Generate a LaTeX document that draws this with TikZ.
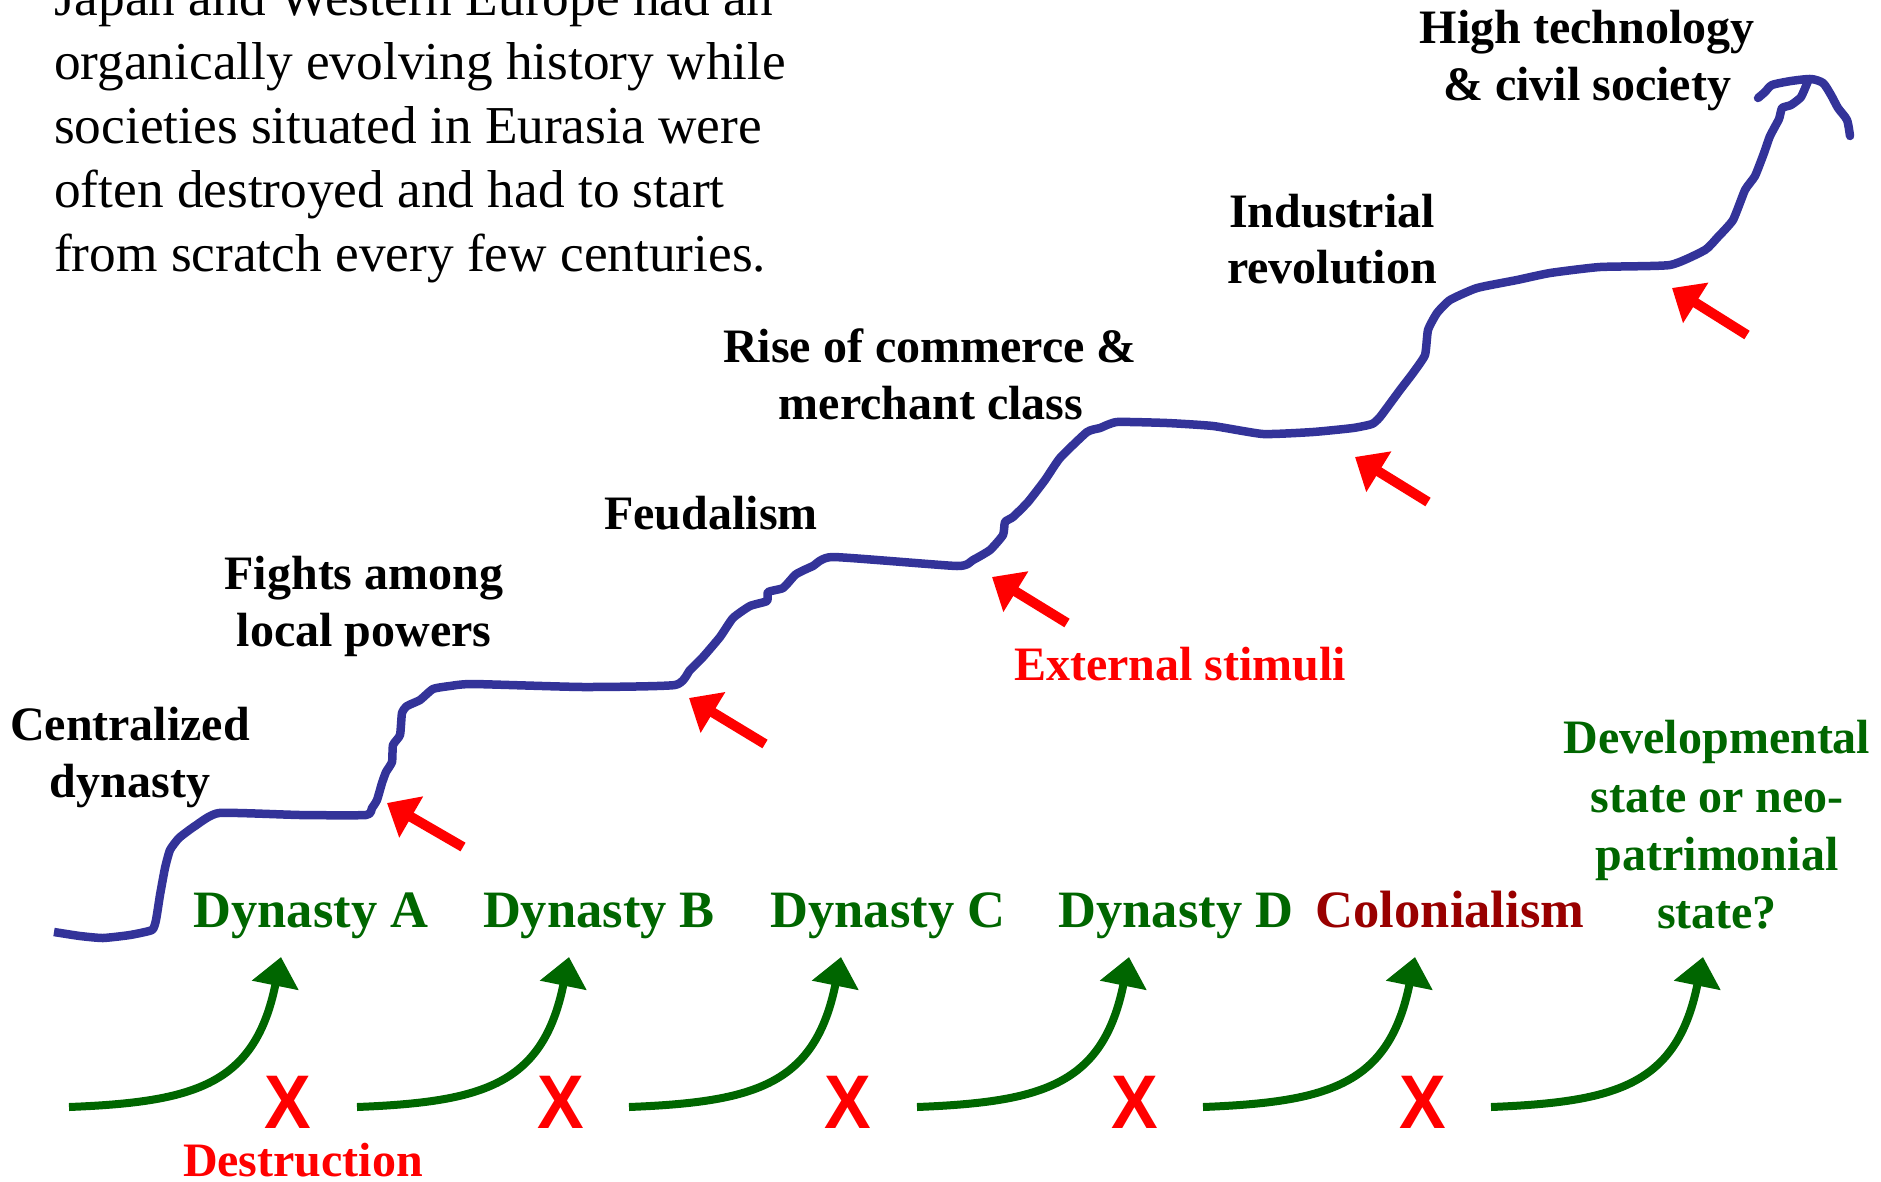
\documentclass[tikz,border=0pt]{standalone}
\usepackage{fontspec}
\setmainfont{Liberation Serif}
\newfontfamily\xfont{Liberation Sans}
\usetikzlibrary{arrows.meta}
\definecolor{curveblue}{RGB}{51,51,153}
\definecolor{dgreen}{RGB}{0,102,0}
\definecolor{dred}{RGB}{153,0,0}
\definecolor{bred}{RGB}{255,0,0}
\begin{document}
\begin{tikzpicture}[x=1pt,y=-1pt,
 para/.style={anchor=base west, inner sep=0, font=\fontsize{53.3}{64}\selectfont},
 lbl/.style={anchor=base, inner sep=0, font=\bfseries\fontsize{48}{57.6}\selectfont},
 dyn/.style={anchor=base, inner sep=0, text=dgreen, font=\bfseries\fontsize{52.5}{63}\selectfont},
 stim/.style={-{Triangle[length=28pt,width=46pt]}, line width=10pt, draw=bred},
 growarrow/.style={-{Triangle[length=29pt,width=46pt]}, line width=8pt, draw=dgreen},
 cross/.style={inner sep=0, text=bred, font=\xfont\bfseries\fontsize{76}{76}\selectfont},
 hist/.style={draw=curveblue, line width=8.5pt, line join=round},
]
\useasboundingbox (0,0) rectangle (1881,1181);

% paragraph
\node[para] (p1) at (54,15) {Japan and Western Europe had an};
\node[para] (p2) at (54,79) {organically evolving history while};
\node[para] (p3) at (54,143) {societies situated in Eurasia were};
\node[para] (p4) at (54,207) {often destroyed and had to start};
\node[para] (p5) at (54,271) {from scratch every few centuries.};

% history curve
\draw[hist] plot[smooth, tension=0.3] coordinates {
(54,932) (80,936) (103,938) (130,935) (152,930) (156,920) (160,895) (165,868)
(170,850) (179,838) (195,826) (219,813) (300,815) (366,815) (372,808) (377,800)
(382,783) (386,772) (392,762) (393,745) (400,735) (402,713) (407,706) (420,700)
(433,689) (450,686) (473,684) (583,687) (675,685) (690,670) (703,657) (720,637)
(733,618) (750,606) (767,601) (768,592) (783,588) (795,575) (802,571) (813,566)
(833,557) (957,566) (973,560) (990,550) (1003,535) (1005,522) (1013,517) (1028,502)
(1045,480) (1060,458) (1087,432) (1100,428) (1117,422) (1167,423) (1213,426) (1263,434)
(1313,432) (1353,428) (1372,424) (1380,417) (1400,390) (1413,373) (1425,355) (1428,330)
(1437,313) (1450,300) (1477,288) (1517,280) (1550,273) (1600,267) (1670,265) (1705,250)
(1717,238) (1733,220) (1745,190) (1755,176) (1764,153) (1770,136) (1779,119) (1782,108)
(1791,105) (1801,97) (1808,81)};
\draw[hist, line cap=round] plot[smooth, tension=0.4] coordinates {
(1758,98) (1765,92) (1772,85) (1791,81) (1811,79) (1823,83) (1831,95) (1838,108)
(1847,120) (1850,136)};

% labels on curve
\node[lbl] (c1) at (130,740) {Centralized};
\node[lbl] (c2) at (130,797) {dynasty};
\node[lbl] (f1) at (364,589) {Fights among};
\node[lbl] (f2) at (364,646) {local powers};
\node[lbl] (feu) at (711,529) {Feudalism};
\node[lbl] (r1) at (930,362) {Rise of commerce \&};
\node[lbl] (r2) at (931,419) {merchant class};
\node[lbl] (i1) at (1332,227) {Industrial};
\node[lbl] (i2) at (1332,283) {revolution};
\node[lbl] (h1) at (1587,43) {High technology};
\node[lbl] (h2) at (1587,100) {\& civil society};
\node[lbl, text=bred] (ext) at (1180,680) {External stimuli};
\node[lbl, text=bred] (des) at (303,1176) {Destruction};

% external stimuli arrows
\coordinate (st1) at (463,847);  \coordinate (sh1) at (387,803);
\coordinate (st2) at (765,744);  \coordinate (sh2) at (689,698);
\coordinate (st3) at (1067,623); \coordinate (sh3) at (992,577);
\coordinate (st4) at (1428,502); \coordinate (sh4) at (1355,457);
\coordinate (st5) at (1747,335); \coordinate (sh5) at (1672,288);
\foreach \i in {1,...,5} { \draw[stim] (st\i) -- (sh\i); }

% dynasties
\node[dyn] (dA) at (311,927) {Dynasty A};
\node[dyn] (dB) at (599,927) {Dynasty B};
\node[dyn] (dC) at (888,927) {Dynasty C};
\node[dyn] (dD) at (1176,927) {Dynasty D};
\node[dyn, text=dred] (col) at (1450,927) {Colonialism};
\node[lbl, text=dgreen] (dev1) at (1717,753) {Developmental};
\node[lbl, text=dgreen] (dev2) at (1717,812) {state or neo-};
\node[lbl, text=dgreen] (dev3) at (1717,870) {patrimonial};
\node[lbl, text=dgreen] (dev4) at (1717,928) {state?};

% growth arrows
\foreach \o/\n in {0/1,288/2,560/3,848/4,1134/5,1422/6} {
  \coordinate (gs\n) at (69+\o,1107);
  \coordinate (ge\n) at (281+\o,957);
  \draw[growarrow] (gs\n) .. controls +(126,-5) and +(-26,128) .. (ge\n);
}

% destruction marks
\node[cross] (x1) at (288,1102) {\scalebox{0.92}[1]{X}};
\node[cross] (x2) at (561,1102) {\scalebox{0.92}[1]{X}};
\node[cross] (x3) at (848,1102) {\scalebox{0.92}[1]{X}};
\node[cross] (x4) at (1135,1102) {\scalebox{0.92}[1]{X}};
\node[cross] (x5) at (1423,1102) {\scalebox{0.92}[1]{X}};
\end{tikzpicture}
\end{document}
